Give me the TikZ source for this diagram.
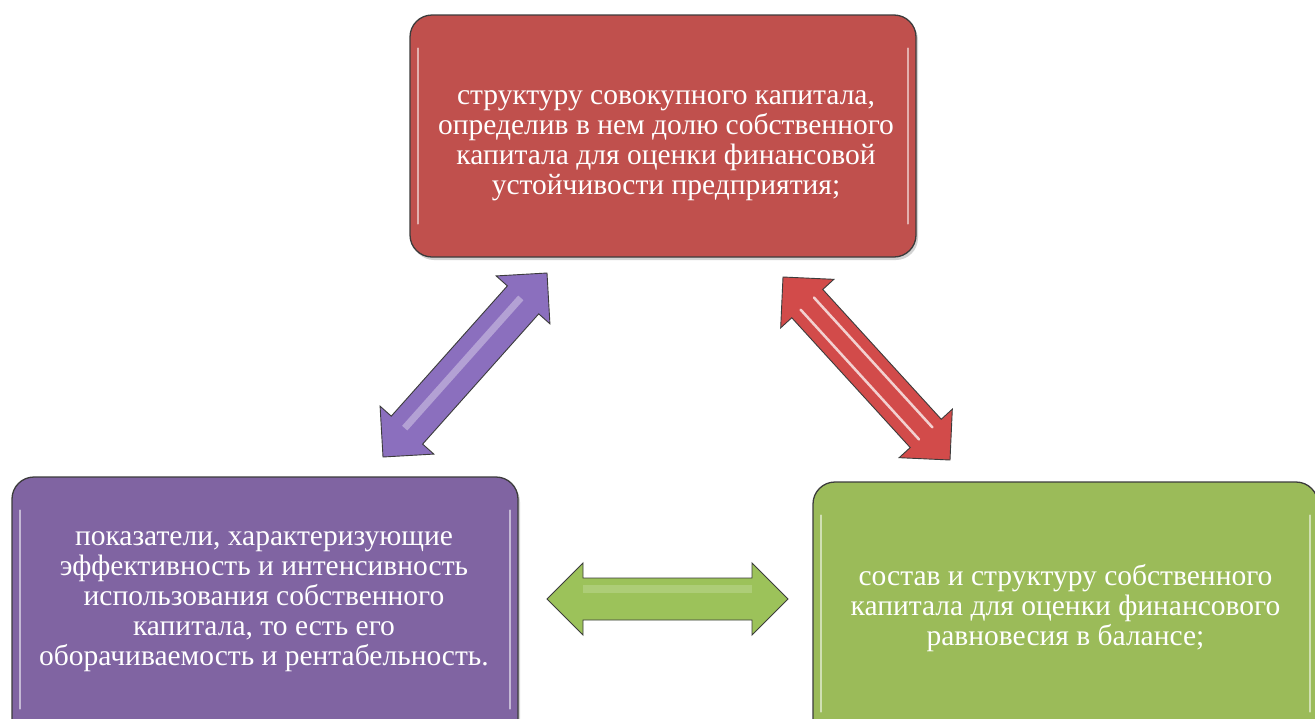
\documentclass[tikz,border=0pt]{standalone}
\usepackage{fontspec}
\setmainfont{Liberation Serif}
\usetikzlibrary{calc,shadows}
\definecolor{boxred}{HTML}{C0504D}
\definecolor{boxpurple}{HTML}{8064A2}
\definecolor{boxgreen}{HTML}{9BBB59}
\definecolor{arrred}{HTML}{D24B4A}
\definecolor{arrpurple}{HTML}{8B6FBE}
\definecolor{arrgreen}{HTML}{9CC25A}
\definecolor{edgegray}{HTML}{3C3C3C}
\newcommand\blockarrow[4]{%
  \coordinate (ba1) at ($(#1)!36pt!(#2)$);
  \coordinate (ba2) at ($(#2)!36pt!(#1)$);
  \draw[#3] (#1) -- ($(ba1)!36pt!90:(#2)$) -- ($(ba1)!21pt!90:(#2)$)
    -- ($(ba2)!21pt!-90:(#1)$) -- ($(ba2)!36pt!-90:(#1)$) -- (#2)
    -- ($(ba2)!36pt!90:(#1)$) -- ($(ba2)!21pt!90:(#1)$)
    -- ($(ba1)!21pt!-90:(#2)$) -- ($(ba1)!36pt!-90:(#2)$) -- cycle;
  #4
}
\begin{document}
\begin{tikzpicture}[x=1pt,y=-1pt,
  box/.style={draw=edgegray, line width=1.3pt, rounded corners=22pt, inner sep=0pt,
    drop shadow={shadow xshift=2pt, shadow yshift=-3pt, opacity=0.35}},
  txt/.style={text=white, align=center, font=\fontsize{29.5}{30}\selectfont, inner sep=0pt},
  shine/.style={white, opacity=0.55, line width=2.2pt, line cap=round},
  arr/.style={draw=edgegray, line width=0.9pt, line join=miter}]
\useasboundingbox (0,0) rectangle (1315,718);
\fill[white] (0,0) rectangle (1315,718);
\begin{scope}
\clip (0,0) rectangle (1315,718);
% boxes
\node[box, fill=boxred, minimum width=506pt, minimum height=242pt] (rbox) at (663,136) {};
\node[box, fill=boxpurple, minimum width=506pt, minimum height=265pt] (pbox) at (265,609.5) {};
\node[box, fill=boxgreen, minimum width=505pt, minimum height=263pt] (gbox) at (1065.5,613.5) {};
% highlights
\foreach \b in {rbox,pbox,gbox}{
  \draw[shine] ($(\b.north west)+(9,34)$) -- ($(\b.south west)+(9,-34)$);
  \draw[shine] ($(\b.north east)+(-9,34)$) -- ($(\b.south east)+(-9,-34)$);
}
% texts
\node[txt] (rtext) at (666,145.5) {структуру совокупного капитала,\\определив в нем долю собственного\\капитала для оценки финансовой\\устойчивости предприятия;};
\node[txt] (ptext) at (264,602) {показатели, характеризующие\\эффективность и интенсивность\\использования собственного\\капитала, то есть его\\оборачиваемость и рентабельность.};
\node[txt] (gtext) at (1065.5,608) {состав и структуру собственного\\капитала для оценки финансового\\равновесия в балансе;};
% arrows
\coordinate (pa) at (383,457);
\coordinate (pb) at (547,273);
\coordinate (ra) at (783,277);
\coordinate (rb) at (950,460);
\coordinate (ga) at (547,599);
\coordinate (gb) at (788,599);
\blockarrow{pa}{pb}{arr, fill=arrpurple}{%
  \draw[white, opacity=0.35, line width=7pt] ($(ba1)!3pt!90:(pb)$) -- ($(ba2)!3pt!-90:(pa)$);}
\blockarrow{ra}{rb}{arr, fill=arrred}{%
  \draw[white, opacity=0.75, line width=2.5pt, line cap=round] ($(ba1)!9pt!90:(rb)$) -- ($(ba2)!9pt!-90:(ra)$);
  \draw[white, opacity=0.75, line width=2.5pt, line cap=round] ($(ba1)!9pt!-90:(rb)$) -- ($(ba2)!9pt!90:(ra)$);}
\blockarrow{ga}{gb}{arr, fill=arrgreen}{%
  \draw[white, opacity=0.18, line width=8pt] ($(ba1)!10pt!90:(gb)$) -- ($(ba2)!10pt!-90:(ga)$);}
\end{scope}
\end{tikzpicture}
\end{document}
